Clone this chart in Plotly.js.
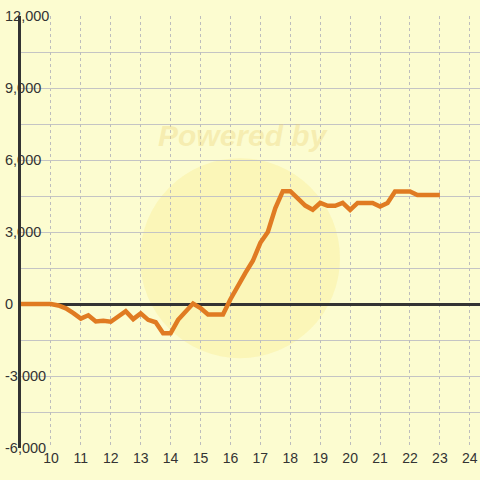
<!DOCTYPE html>
<html>
<head>
<meta charset="utf-8">
<script src="https://cdn.plot.ly/plotly-3.0.1.min.js"></script>
<style>html,body{margin:0;padding:0;background:#FCFCD0;}#chart{width:480px;height:480px;}</style>
</head>
<body>
<div id="chart"></div>
<script>
const hours = [9, 9.25, 9.5, 9.75, 10, 10.25, 10.5, 10.75, 11, 11.25, 11.5, 11.75, 12, 12.25, 12.5, 12.75,
  13, 13.25, 13.5, 13.75, 14, 14.25, 14.5, 14.75, 15, 15.25, 15.5, 15.75, 16, 16.25, 16.5, 16.75,
  17, 17.25, 17.5, 17.75, 18, 18.25, 18.5, 18.75, 19, 19.25, 19.5, 19.75, 20, 20.25, 20.5, 20.75,
  21, 21.25, 21.5, 21.75, 22, 22.25, 22.5, 22.75, 23];
const profit = [0, 0, 0, 0, 0, -60, -180, -380, -610, -470, -730, -700, -740, -520, -300, -630,
  -390, -660, -760, -1220, -1220, -660, -310, 20, -170, -440, -440, -440, 200, 800, 1300, 1800,
  2550, 3000, 4000, 4700, 4700, 4400, 4100, 3930, 4210, 4090, 4090, 4210, 3920, 4210, 4210, 4210,
  4060, 4210, 4690, 4690, 4690, 4540, 4540, 4540, 4540];
const xTickVals = [10, 11, 12, 13, 14, 15, 16, 17, 18, 19, 20, 21, 22, 23, 24];
const yTickVals = [-6000, -3000, 0, 3000, 6000, 9000, 12000];
const yTickText = ["-6,000", "-3,000", "0", "3,000", "6,000", "9,000", "12,000"];
const watermarkText = "Powered by";

const BG = "#FCFCD0";
const FONT = "Liberation Sans, Arial, sans-serif";

const trace = {
  x: hours, y: profit, type: "scatter", mode: "lines",
  line: {color: "#E07B22", width: 4.5},
  hoverinfo: "skip", xaxis: "x", yaxis: "y"
};
// empty trace so the label axis (y2) gets drawn
const labelAxisTrace = {x: [], y: [], type: "scatter", mode: "lines", xaxis: "x", yaxis: "y2", hoverinfo: "skip"};

const layout = {
  width: 480, height: 480,
  margin: {l: 0, r: 0, t: 16, b: 32, pad: 0},
  paper_bgcolor: BG, plot_bgcolor: BG,
  showlegend: false,
  font: {family: FONT, size: 14, color: "#333"},
  xaxis: {
    domain: [21/480, 1],
    range: [9, 24.34],
    tickmode: "array", tickvals: xTickVals,
    showgrid: true, gridcolor: "#bdbdbd", gridwidth: 1, griddash: "3px,3px",
    zeroline: false, showline: false, ticks: "",
    tickfont: {family: FONT, size: 14, color: "#333"}
  },
  yaxis: {
    range: [-6000, 12000],
    tickmode: "array", tickvals: yTickVals, showticklabels: false,
    showgrid: true, gridcolor: "#c4c4c4", gridwidth: 1,
    minor: {tickmode: "linear", tick0: 0, dtick: 1500, showgrid: true, gridcolor: "#c4c4c4", gridwidth: 1},
    zeroline: true, zerolinecolor: "#333", zerolinewidth: 3,
    showline: true, linecolor: "#333", linewidth: 3, ticks: ""
  },
  yaxis2: {
    overlaying: "y", anchor: "free", position: 0, side: "right",
    range: [-6000, 12000],
    tickmode: "array", tickvals: yTickVals, ticktext: yTickText,
    showgrid: false, zeroline: false, showline: false, ticks: "",
    ticklabelstandoff: 4,
    tickfont: {family: FONT, size: 14.5, color: "#333"}
  },
  shapes: [{
    type: "circle", xref: "paper", yref: "paper", layer: "below",
    x0: 0.2917, x1: 0.7083, y0: 0.208, y1: 0.671,
    fillcolor: "rgba(250,235,140,0.35)", line: {width: 0}
  }],
  annotations: [{
    text: watermarkText, xref: "paper", yref: "paper", x: 0.506, y: 0.7245,
    xanchor: "center", yanchor: "middle",
    showarrow: false,
    font: {family: FONT, size: 30, weight: "bold", style: "italic", color: "rgba(235,210,120,0.35)"}
  }]
};

Plotly.newPlot("chart", [trace, labelAxisTrace], layout, {staticPlot: true, displayModeBar: false});
</script>
</body>
</html>
